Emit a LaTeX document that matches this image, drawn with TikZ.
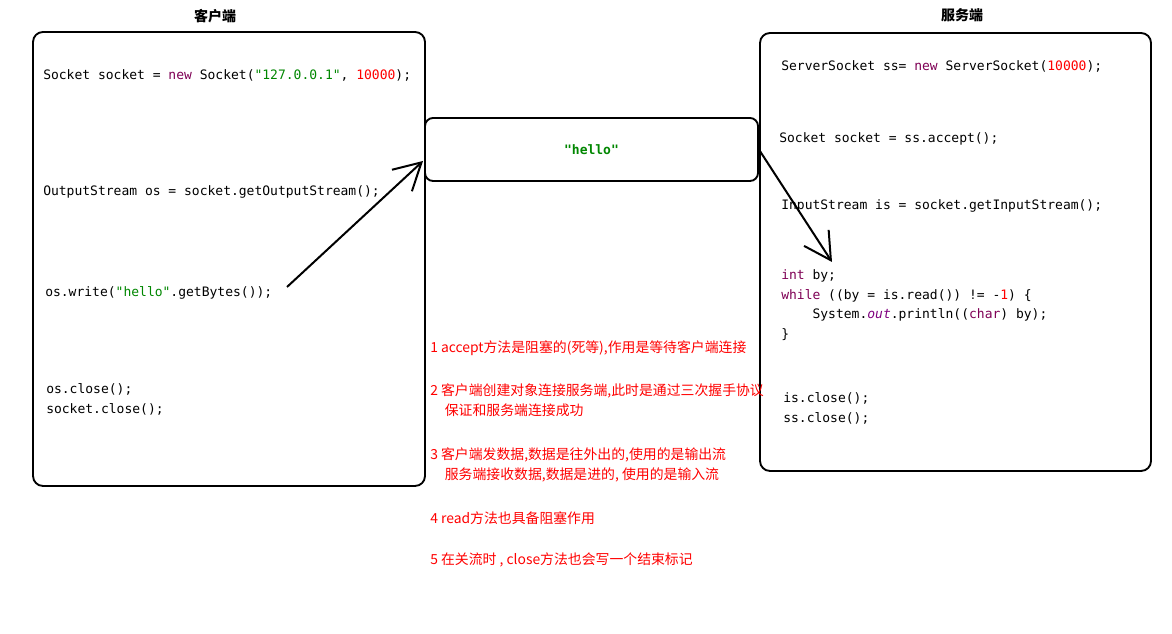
\documentclass[tikz,border=0pt]{standalone}
\usepackage{fontspec}
\setmainfont{Noto Sans CJK SC}
\newfontfamily\codefont{DejaVu Sans Mono}
\usetikzlibrary{arrows.meta,positioning}

\definecolor{kwcol}{RGB}{127,0,85}
\definecolor{strcol}{RGB}{0,135,0}
\definecolor{numcol}{RGB}{255,0,0}
\definecolor{fldcol}{RGB}{127,0,127}
\definecolor{notecol}{RGB}{255,0,0}

\newcommand\jkw[1]{\textcolor{kwcol}{#1}}
\newcommand\jstr[1]{\textcolor{strcol}{#1}}
\newcommand\jnum[1]{\textcolor{numcol}{#1}}
\newcommand\jfld[1]{\textcolor{fldcol}{\itshape #1}}

\begin{document}
\begin{tikzpicture}[
      x=0.75pt, y=-0.75pt,
      frame/.style={line width=1.4pt,rounded corners=7.5pt},
      code/.style={anchor=west,inner sep=0pt,align=left,
        font=\codefont\fontsize{9.75pt}{14.7pt}\selectfont},
      note/.style={anchor=west,inner sep=0pt,align=left,text=notecol,
        font=\fontsize{10.4pt}{15pt}\selectfont},
      title/.style={font=\bfseries\fontsize{10.5pt}{12pt}\selectfont},
      arr/.style={-{Straight Barb[length=20pt,width=22pt]},line width=1.5pt},
    ]
    \useasboundingbox (0,0) rectangle (1172,634);

    % titles
    \node[title] (client) at (215,16) {客户端};
    \node[title] (server) at (962,15) {服务端};

    % frames
    \draw[frame,fill=white] (33,32) rectangle (425,486);
    \draw[frame,fill=white] (760,33) rectangle (1151,471);
    \node[draw,fill=white,line width=1.4pt,rounded corners=6pt,
      minimum width=249.75pt,minimum height=47.25pt,
      font=\codefont\bfseries\fontsize{9.75pt}{12pt}\selectfont,text=strcol]
      (msg) at (591.5,149.5) {"hello"};

    % client code
    \node[code] (c1) at (43,75) {Socket socket = \jkw{new} Socket(\jstr{"127.0.0.1"}, \jnum{10000});};
    \node[code] (c2) at (43,192) {OutputStream os = socket.getOutputStream();};
    \node[code] (c3) at (45,293) {os.write(\jstr{"hello"}.getBytes());};
    \node[code] (c4) at (46,399.5) {os.close();\\socket.close();};

    % server code
    \node[code] (s1) at (781,66) {ServerSocket ss= \jkw{new} ServerSocket(\jnum{10000});};
    \node[code] (s2) at (779,139) {Socket socket = ss.accept();};
    \node[code] (s3) at (781,206) {InputStream is = socket.getInputStream();};
    \node[code] (s4) at (781,305) {\jkw{int} by;\\
      \jkw{while} ((by = is.read()) != -\jnum{1}) \{\\
      \phantom{xxxx}System.\jfld{out}.println((\jkw{char}) by);\\
      \}};
    \node[code] (s5) at (783,408.5) {is.close();\\ss.close();};

    % notes
    \node[note] (n1) at (430,348) {1 accept方法是阻塞的(死等),作用是等待客户端连接};
    \node[note] (n2) at (430,400) {2 客户端创建对象连接服务端,此时是通过三次握手协议\\
      \hspace*{1.05em}保证和服务端连接成功};
    \node[note] (n3) at (430,465) {3 客户端发数据,数据是往外出的,使用的是输出流\\
      \hspace*{1.05em}服务端接收数据,数据是进的, 使用的是输入流};
    \node[note] (n4) at (430,518) {4 read方法也具备阻塞作用};
    \node[note] (n5) at (430,560) {5 在关流时 , close方法也会写一个结束标记};

    % flow of the data
    \coordinate (sendfrom) at (287,287);
    \coordinate (sendto) at (423,161);
    \coordinate (readto) at (832,262);
    \draw[arr] (sendfrom) -- (sendto);
    \draw[arr] (msg.east) -- (readto);
  \end{tikzpicture}
\end{document}
